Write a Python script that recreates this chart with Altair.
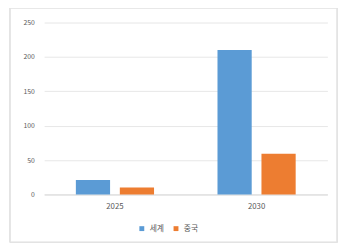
import altair as alt
import pandas as pd

years = ["2025", "2030"]
series = ["세계", "중국"]
world = [21, 210]
china = [10, 59]

rows = []
for i, y in enumerate(years):
    rows.append({"year": y, "region": series[0], "value": world[i]})
    rows.append({"year": y, "region": series[1], "value": china[i]})
df = pd.DataFrame(rows)

font = "Noto Sans CJK KR"

bars = alt.Chart(df).mark_bar().encode(
    x=alt.X("year:N", sort=years, title=None,
            scale=alt.Scale(paddingInner=0.448, paddingOuter=0.224),
            axis=alt.Axis(labelAngle=0, labelFontSize=8, labelColor="#595959",
                          domain=True, domainColor="#d9d9d9", ticks=False,
                          labelPadding=8, labelFont=font)),
    xOffset=alt.XOffset("region:N", sort=series,
                        scale=alt.Scale(paddingInner=0.222, paddingOuter=0)),
    y=alt.Y("value:Q", title=None,
            scale=alt.Scale(domain=[0, 250], nice=False),
            axis=alt.Axis(values=[0, 50, 100, 150, 200, 250], labelFontSize=7,
                          labelColor="#595959", domain=False, ticks=False,
                          gridColor="#e6e6e6", labelPadding=10, labelFont=font)),
    color=alt.Color("region:N", sort=series,
                    scale=alt.Scale(domain=series, range=["#5B9BD5", "#ED7D31"]),
                    legend=alt.Legend(title=None, orient="none", direction="horizontal",
                                      legendX=96, legendY=207,
                                      symbolType="square", symbolSize=25,
                                      labelFontSize=8, labelColor="#595959",
                                      labelFont=font, columnPadding=8)),
)

border = alt.Chart(df).mark_rect(fill=None, stroke="#e3e3e3", strokeWidth=1, clip=False).encode(
    x=alt.value(-35), x2=alt.value(300), y=alt.value(-15), y2=alt.value(225)
)

chart = alt.layer(bars, border).properties(width=290, height=176).configure_view(stroke=None).properties(
    autosize=alt.AutoSizeParams(type="none"),
    padding={"left": 37, "top": 12, "right": 17, "bottom": 54},
)

chart.save("out.html", embed_options={"renderer": "svg", "actions": False})
